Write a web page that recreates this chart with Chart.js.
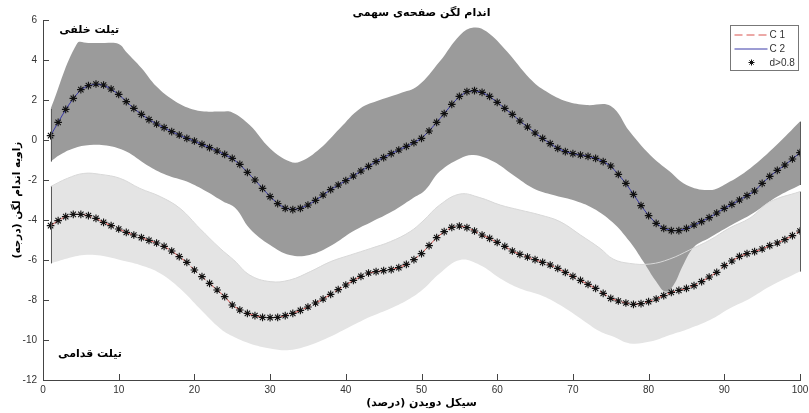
<!DOCTYPE html>
<html lang="fa">
<head>
<meta charset="UTF-8">
<title>اندام لگن صفحه‌ی سهمی</title>
<script src="https://cdn.jsdelivr.net/npm/chart.js@4.4.0/dist/chart.umd.min.js"></script>
<style>
  html, body { margin: 0; padding: 0; background: #fff; }
  #wrap { width: 809px; height: 413px; }
</style>
</head>
<body>
<div id="wrap"><canvas id="chart" width="809" height="413"></canvas></div>
<script>
// cycle percent (x) for the two mean curves
const cycle = [1,2,3,4,5,6,7,8,9,10,11,12,13,14,15,16,17,18,19,20,
  21,22,23,24,25,26,27,28,29,30,31,32,33,34,35,36,37,38,39,40,
  41,42,43,44,45,46,47,48,49,50,51,52,53,54,55,56,57,58,59,60,
  61,62,63,64,65,66,67,68,69,70,71,72,73,74,75,76,77,78,79,80,
  81,82,83,84,85,86,87,88,89,90,91,92,93,94,95,96,97,98,99,100];

// C 2 (blue, upper curve)
const c2 = [0.22,0.88,1.53,2.08,2.52,2.72,2.80,2.75,2.55,2.28,
  1.92,1.58,1.28,1.02,0.80,0.62,0.42,0.25,0.08,-0.05,
  -0.22,-0.38,-0.55,-0.72,-0.92,-1.22,-1.62,-2.00,-2.42,-2.83,
  -3.18,-3.42,-3.48,-3.42,-3.25,-3.02,-2.75,-2.48,-2.25,-2.03,
  -1.80,-1.55,-1.32,-1.08,-0.88,-0.68,-0.50,-0.32,-0.13,0.08,
  0.45,0.88,1.32,1.78,2.18,2.42,2.47,2.38,2.18,1.88,
  1.58,1.28,0.95,0.65,0.35,0.08,-0.18,-0.42,-0.58,-0.68,
  -0.75,-0.82,-0.92,-1.08,-1.30,-1.72,-2.17,-2.72,-3.28,-3.78,
  -4.17,-4.42,-4.53,-4.53,-4.42,-4.25,-4.08,-3.88,-3.65,-3.42,
  -3.22,-3.00,-2.78,-2.55,-2.17,-1.82,-1.52,-1.25,-0.95,-0.63];

// C 1 (red dashed, lower curve)
const c1 = [-4.28,-4.03,-3.83,-3.72,-3.72,-3.78,-3.92,-4.12,-4.28,-4.45,
  -4.62,-4.75,-4.88,-5.02,-5.15,-5.32,-5.55,-5.83,-6.12,-6.50,
  -6.83,-7.17,-7.50,-7.83,-8.25,-8.50,-8.67,-8.78,-8.87,-8.88,
  -8.87,-8.78,-8.67,-8.52,-8.35,-8.15,-7.95,-7.72,-7.48,-7.25,
  -7.02,-6.82,-6.65,-6.58,-6.53,-6.48,-6.38,-6.22,-5.98,-5.68,
  -5.28,-4.88,-4.58,-4.37,-4.30,-4.38,-4.55,-4.75,-4.92,-5.12,
  -5.32,-5.55,-5.72,-5.85,-5.98,-6.12,-6.25,-6.42,-6.62,-6.82,
  -7.02,-7.22,-7.42,-7.67,-7.92,-8.05,-8.15,-8.22,-8.18,-8.08,
  -7.95,-7.78,-7.62,-7.52,-7.42,-7.28,-7.08,-6.85,-6.62,-6.28,
  -6.05,-5.82,-5.68,-5.58,-5.45,-5.28,-5.15,-4.98,-4.78,-4.55];

// dark band (C 2 spread)
const darkUpX = [1,4.5,6,8,10,11,13,15,17.2,19.4,21.6,23.4,25,27.3,30,32.6,34,36.6,39.2,41.9,
  44.5,47.1,49.5,52.4,55.1,56.9,58.6,61.3,64.3,66.5,69.2,71.8,75,77.5,80.2,82.8,85,88.1,90.3,93.4,96.9,100];
const darkUpY = [1.55,4.83,4.85,4.85,4.80,4.40,3.60,2.67,2.00,1.58,1.42,1.42,1.38,0.75,-0.42,-1.08,-1.08,-0.42,0.58,1.58,
  2.00,2.33,2.70,3.92,5.25,5.62,5.42,4.42,3.08,2.42,1.92,1.75,1.70,0.42,-0.75,-1.58,-2.25,-2.50,-2.17,-1.42,-0.25,0.92];
const darkLoX = [1,2.2,4,6.2,8.4,11,13.7,16.3,19,21.6,23.8,25.4,27.3,30,32.6,35.2,38.2,40.9,43.5,46.1,
  48.8,50.5,52.4,55.1,56.9,59.5,62.1,64.8,67.4,70,72.7,75.2,77.5,79.3,81,82.2,83.3,84.5,86,88,
  90.7,93.4,95,96.9,100];
const darkLoY = [-1.08,-0.75,-0.42,-0.25,-0.28,-0.58,-1.25,-1.75,-2.08,-2.58,-3.08,-3.40,-4.42,-5.25,-5.75,-5.75,-5.25,-4.58,-4.08,-3.58,
  -2.92,-2.50,-1.58,-0.92,-0.75,-1.08,-1.75,-2.42,-2.75,-3.00,-3.42,-4.10,-5.08,-6.08,-7.08,-7.58,-7.25,-6.30,-5.35,-4.90,
  -4.30,-3.75,-3.35,-2.85,-2.25];

// light band (C 1 spread)
const lightUpX = [1,3.2,5.4,7.6,10.2,12.8,15.5,18.1,20.7,23.4,25.2,27.3,30,32.6,35.3,38,40.6,43.3,45.9,48.5,
  50.2,52.4,55.1,57.7,60.4,63,65.7,68.3,71,73.6,75.3,77.5,80.2,82.8,85.4,88.1,90.7,93.4,96,100];
const lightUpY = [-2.33,-1.92,-1.67,-1.72,-1.92,-2.42,-2.83,-3.42,-4.42,-5.42,-6.00,-6.75,-7.08,-7.00,-6.58,-6.08,-5.75,-5.42,-5.08,-4.58,
  -4.05,-3.25,-2.70,-2.88,-3.25,-3.50,-3.75,-4.08,-4.75,-5.42,-5.95,-6.17,-6.20,-5.95,-5.50,-5.00,-4.40,-3.90,-3.10,-2.58];
const lightLoX = [1,3.2,5.4,7.6,10.2,12.8,15.5,18.1,20.7,23.4,25,27.3,30,32.6,35.3,38,40.6,43.3,45.9,48.5,
  50.2,52.4,55.1,57.7,60.4,63,65.7,68.3,71,73.6,75.3,77.5,80.2,82.8,85.4,88.1,90.7,93.4,96,100];
const lightLoY = [-6.17,-5.92,-5.75,-5.78,-6.00,-6.25,-6.67,-7.42,-8.42,-9.42,-9.80,-10.17,-10.42,-10.50,-10.25,-9.83,-9.33,-8.83,-8.42,-7.92,
  -7.46,-6.67,-6.00,-6.25,-6.92,-7.42,-7.75,-8.25,-8.92,-9.58,-9.83,-10.17,-10.08,-9.75,-9.42,-9.00,-8.42,-7.92,-7.33,-6.58];

const xTicks = [0,10,20,30,40,50,60,70,80,90,100];
const yTicks = [6,4,2,0,-2,-4,-6,-8,-10,-12];

const chartTitle = 'اندام لگن صفحه‌ی سهمی';
const xTitle = 'سیکل دویدن (درصد)';
const yTitle = 'زاویه اندام لگن (درجه)';
const notes = [
  { text: 'تیلت خلفی', x: 6.1, y: 5.5 },
  { text: 'تیلت قدامی', x: 6.2, y: -10.7 }
];

const fa = '"DejaVu Sans", sans-serif';
const pts = (xs, ys) => xs.map((x, i) => ({ x: x, y: ys[i] }));

function band(xs, ys, fillColor, order, label) {
  return {
    label: label, data: pts(xs, ys), order: order,
    borderColor: 'transparent', borderWidth: 0, pointRadius: 0,
    fill: fillColor ? '-1' : false, backgroundColor: fillColor || 'transparent',
    tension: 0.4, legend: false
  };
}

const datasets = [
  band(lightLoX, lightLoY, null, 5, 'lightLo'),
  band(lightUpX, lightUpY, '#e4e4e4', 5, 'lightUp'),
  band(darkLoX, darkLoY, null, 4, 'darkLo'),
  band(darkUpX, darkUpY, '#9b9b9b', 4, 'darkUp'),
  {
    label: 'lightEdge', data: pts(lightUpX, lightUpY), order: 3, legend: false,
    borderColor: '#d8d8d8', borderWidth: 1, pointRadius: 0, fill: false, tension: 0.4
  },
  {
    label: 'C 1', data: pts(cycle, c1), order: 2,
    borderColor: '#d9534f', borderWidth: 1, borderDash: [8, 4], pointRadius: 0, fill: false
  },
  {
    label: 'C 2', data: pts(cycle, c2), order: 2,
    borderColor: '#3a3aa8', borderWidth: 1, pointRadius: 0, fill: false
  },
  {
    label: 'd>0.8', data: pts(cycle, c1).concat(pts(cycle, c2)), order: 1,
    showLine: false, pointStyle: 'star', pointRadius: 3.8, borderColor: '#111', borderWidth: 1.1,
    backgroundColor: '#111', pointHoverRadius: 3.8
  }
];

const overlay = {
  id: 'overlay',
  afterDraw(chart) {
    const ctx = chart.ctx, a = chart.chartArea, xs = chart.scales.x, ys = chart.scales.y;
    ctx.save();

    // band end caps
    ctx.strokeStyle = '#5a5a5a';
    ctx.lineWidth = 1;
    ctx.beginPath();
    [[darkUpX, darkUpY, darkLoX, darkLoY], [lightUpX, lightUpY, lightLoX, lightLoY]].forEach(b => {
      [0, 'last'].forEach(k => {
        const iu = k === 0 ? 0 : b[0].length - 1, il = k === 0 ? 0 : b[2].length - 1;
        const px = Math.round(xs.getPixelForValue(b[0][iu])) + 0.5;
        ctx.moveTo(px, ys.getPixelForValue(b[1][iu]));
        ctx.lineTo(px, ys.getPixelForValue(b[3][il]));
      });
    });
    ctx.stroke();

    // inward ticks
    ctx.strokeStyle = '#444';
    ctx.beginPath();
    xTicks.forEach(v => {
      const px = Math.round(xs.getPixelForValue(v)) + 0.5;
      ctx.moveTo(px, a.bottom); ctx.lineTo(px, a.bottom - 6);
    });
    yTicks.forEach(v => {
      const py = Math.round(ys.getPixelForValue(v)) + 0.5;
      ctx.moveTo(a.left, py); ctx.lineTo(a.left + 6, py);
    });
    ctx.stroke();

    // persian texts
    ctx.fillStyle = '#000';
    ctx.direction = 'rtl';
    ctx.textAlign = 'center';
    ctx.textBaseline = 'middle';
    ctx.font = 'bold 11px ' + fa;
    ctx.fillText(chartTitle, (a.left + a.right) / 2, 13);
    ctx.fillText(xTitle, (a.left + a.right) / 2, 403);
    notes.forEach(n => ctx.fillText(n.text, xs.getPixelForValue(n.x), ys.getPixelForValue(n.y)));
    ctx.save();
    ctx.translate(17, (a.top + a.bottom) / 2);
    ctx.rotate(-Math.PI / 2);
    ctx.font = 'bold 10.5px ' + fa;
    ctx.fillText(yTitle, 0, 0);
    ctx.restore();

    // legend
    const items = chart.data.datasets.filter(d => d.legend !== false);
    const bx = 730.5, by = 25.5, bw = 68, bh = 45;
    ctx.direction = 'ltr';
    ctx.fillStyle = '#fff';
    ctx.fillRect(bx, by, bw, bh);
    ctx.strokeStyle = '#777';
    ctx.strokeRect(bx, by, bw, bh);
    ctx.font = '10px "Liberation Sans", Arial, sans-serif';
    ctx.textAlign = 'left';
    items.forEach((d, i) => {
      const y = by + 9 + i * 14;
      if (d.showLine === false) {
        ctx.strokeStyle = d.borderColor;
        const cx = bx + 21, r = 3;
        ctx.beginPath();
        ctx.moveTo(cx - r, y); ctx.lineTo(cx + r, y);
        ctx.moveTo(cx, y - r); ctx.lineTo(cx, y + r);
        ctx.moveTo(cx - r * 0.7, y - r * 0.7); ctx.lineTo(cx + r * 0.7, y + r * 0.7);
        ctx.moveTo(cx - r * 0.7, y + r * 0.7); ctx.lineTo(cx + r * 0.7, y - r * 0.7);
        ctx.stroke();
      } else {
        ctx.strokeStyle = d.borderColor;
        ctx.setLineDash(d.borderDash || []);
        ctx.beginPath();
        ctx.moveTo(bx + 4, y + 0.5); ctx.lineTo(bx + 37, y + 0.5);
        ctx.stroke();
        ctx.setLineDash([]);
      }
      ctx.fillStyle = '#333';
      ctx.fillText(d.label, bx + 39, y + 1);
    });
    ctx.restore();
  }
};

const tickFont = { family: '"Liberation Sans", Arial, sans-serif', size: 10 };

new Chart(document.getElementById('chart'), {
  type: 'line',
  data: { datasets: datasets },
  options: {
    responsive: false,
    animation: false,
    events: [],
    layout: { padding: { top: 20, right: 9, bottom: 0, left: 0 } },
    plugins: { legend: { display: false }, title: { display: false }, tooltip: { enabled: false } },
    scales: {
      x: {
        type: 'linear', min: 0, max: 100,
        ticks: { stepSize: 10, font: tickFont, color: '#333', padding: 4, maxRotation: 0 },
        grid: { display: false, drawTicks: false },
        border: { display: true, color: '#444' },
        afterFit(s) { s.height = 33; s.paddingLeft = 0; s.paddingRight = 0; }
      },
      y: {
        type: 'linear', min: -12, max: 6,
        ticks: { stepSize: 2, font: tickFont, color: '#333', padding: 6 },
        grid: { display: false, drawTicks: false },
        border: { display: true, color: '#444' },
        afterFit(s) { s.width = 43; s.paddingTop = 0; s.paddingBottom = 0; }
      }
    }
  },
  plugins: [overlay]
});
</script>
</body>
</html>
